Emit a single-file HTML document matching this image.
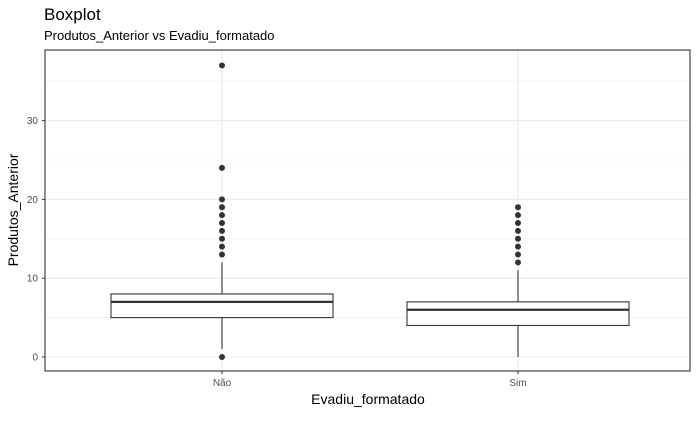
<!DOCTYPE html>
<html><head><meta charset="utf-8"><style>
body{margin:0;background:#fff;font-family:"Liberation Sans",sans-serif}
</style></head><body>
<svg id="c" width="700" height="432" xmlns="http://www.w3.org/2000/svg">
<text x="44" y="20" font-size="17" fill="#000">Boxplot</text>
<text x="44" y="40" font-size="13" fill="#000">Produtos_Anterior vs Evadiu_formatado</text>
<g id="grid"></g><g id="marks"></g><g id="axes"></g>
<text x="368" y="404" font-size="14" text-anchor="middle">Evadiu_formatado</text>
<text transform="translate(18,210) rotate(-90)" font-size="14" text-anchor="middle">Produtos_Anterior</text>
</svg>
<script>
const categories=["Não","Sim"];
const lowerWhisker=[1,0];
const q1=[5,4];
const medians=[7,6];
const q3=[8,7];
const upperWhisker=[12,11];
const outliers=[[0,13,14,15,16,17,18,19,20,24,37],[12,13,14,15,16,17,18,19]];
const yTicks=[0,10,20,30];
const L=45,R=690,T=50,B=371;
const y=v=>357-v*7.88;
const step=296;
const x=i=>222+i*step;
const bw=0.75*step;
const NS="http://www.w3.org/2000/svg";
function mk(p,t,a){const e=document.createElementNS(NS,t);for(const k in a)e.setAttribute(k,a[k]);p.appendChild(e);return e;}
const g=document.getElementById('grid'),m=document.getElementById('marks'),ax=document.getElementById('axes');
for(let v=0;v<=35;v+=5){const l=mk(g,'line',{x1:L,x2:R,y1:y(v),y2:y(v),stroke:'#ebebeb','stroke-width':v%10?0.6:1.1});

}
categories.forEach((c,i)=>{const l=mk(g,'line',{x1:x(i),x2:x(i),y1:T,y2:B,stroke:'#ebebeb','stroke-width':1.1});

});
categories.forEach((c,i)=>{const cx=x(i);
const w1=mk(m,'line',{x1:cx,x2:cx,y1:y(upperWhisker[i]),y2:y(q3[i]),stroke:'#333','stroke-width':1.1});


const w2=mk(m,'line',{x1:cx,x2:cx,y1:y(q1[i]),y2:y(lowerWhisker[i]),stroke:'#333','stroke-width':1.1});


const b=mk(m,'rect',{x:cx-bw/2,y:y(q3[i]),width:bw,height:y(q1[i])-y(q3[i]),fill:'#fff',stroke:'#333','stroke-width':1.1});


const md=mk(m,'line',{x1:cx-bw/2,x2:cx+bw/2,y1:y(medians[i]),y2:y(medians[i]),stroke:'#333','stroke-width':2.3});


outliers[i].forEach(v=>{const p=mk(m,'circle',{cx:cx,cy:y(v),r:3,fill:'#333'});

});
const t=mk(ax,'text',{x:cx,y:386,'font-size':10,'text-anchor':'middle',fill:'#4d4d4d'});t.textContent=c;


mk(ax,'line',{x1:cx,x2:cx,y1:B,y2:B+3,stroke:'#333'});});
yTicks.forEach(v=>{const t=mk(ax,'text',{x:L-7,y:y(v)+3.5,'font-size':10,'text-anchor':'end',fill:'#4d4d4d'});t.textContent=v;


mk(ax,'line',{x1:L-3,x2:L,y1:y(v),y2:y(v),stroke:'#333'});});
const fr=mk(ax,'rect',{x:L,y:T,width:R-L,height:B-T,fill:'none',stroke:'#333','stroke-width':1.1});


</script>
</body></html>
